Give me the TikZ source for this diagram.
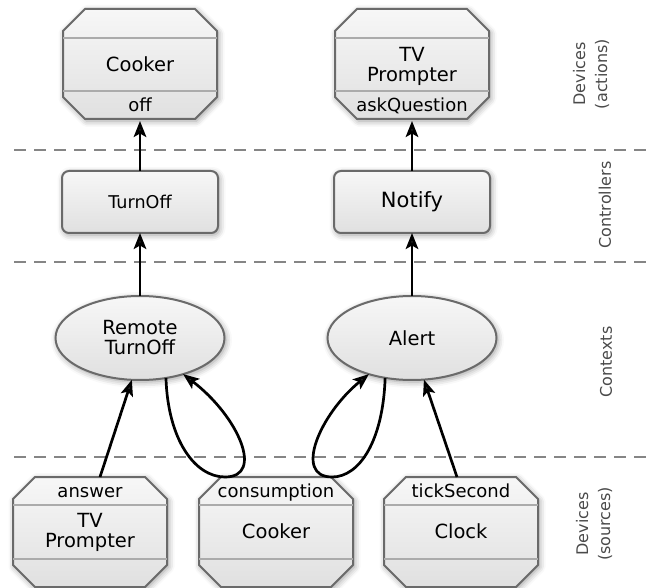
\documentclass[tikz,border=0pt]{standalone}
\usepackage{fontspec}
\setmainfont{DejaVu Sans}
\usetikzlibrary{shapes.geometric,arrows.meta,shadows.blur}
\definecolor{bordergray}{HTML}{6A6A6A}
\definecolor{sepgray}{HTML}{ABABAB}
\definecolor{dashgray}{HTML}{858585}
\definecolor{filltop}{HTML}{F7F7F7}
\definecolor{fillbot}{HTML}{E0E0E0}
\definecolor{sidegray}{HTML}{4A4A4A}
\tikzset{
  softshadow/.style={blur shadow={shadow xshift=1.5pt, shadow yshift=-2pt, shadow blur radius=6pt, shadow opacity=40}},
  devbody/.style={draw=bordergray, line width=2pt, top color=filltop, bottom color=fillbot, softshadow},
  devnode/.style={rectangle, draw=none, minimum width=154, minimum height=110, inner sep=0, outer sep=0},
  sepline/.style={draw=sepgray, line width=1.3pt},
  ctrlbox/.style={rectangle, draw=bordergray, line width=2pt, rounded corners=7pt, top color=filltop, bottom color=fillbot, softshadow, minimum width=156, minimum height=62, inner sep=0, outer sep=0},
  ctxnode/.style={ellipse, draw=bordergray, line width=2pt, top color=filltop, bottom color=fillbot, softshadow, minimum width=169, minimum height=84, inner sep=0, outer sep=0, align=center, font=\fontsize{19.5}{20}\selectfont},
  conn/.style={line width=2.7pt, -{Stealth[length=16pt,width=12.5pt,inset=3.5pt]}},
  gapend/.style={shorten >=2pt},
  mainlbl/.style={font=\fontsize{19.5}{20}\selectfont, align=center, inner sep=0},
  oplbl/.style={font=\fontsize{18}{20}\selectfont, inner sep=0, anchor=base},
  layerline/.style={dashgray, line width=2.4pt, dash pattern=on 12pt off 8pt},
  sidelbl/.style={rotate=90, font=\fontsize{16}{22}\selectfont, text=sidegray, align=center, inner sep=0},
}
\newcommand\devoutline[4]{%
  \path[devbody] (#1+22,#2) -- (#3-22,#2) -- (#3,#2+22) -- (#3,#4-22) -- (#3-22,#4) -- (#1+22,#4) -- (#1,#4-22) -- (#1,#2+22) -- cycle;}
\begin{document}
\begin{tikzpicture}[x=1pt,y=-1pt]
\useasboundingbox (0,0) rectangle (646,588);

% layer separators
\draw[layerline] (14,150) -- (646,150);
\draw[layerline] (14,262) -- (646,262);
\draw[layerline] (14,457) -- (646,457);

% side labels
\node[sidelbl] (labA) at (591,74) {Devices\\(actions)};
\node[sidelbl] (labB) at (605,205) {Controllers};
\node[sidelbl] (labC) at (606,362) {Contexts};
\node[sidelbl] (labD) at (594,524) {Devices\\(sources)};

% action devices
\devoutline{63}{9}{217}{119}
\draw[sepline] (63,38) -- (217,38);
\draw[sepline] (63,91) -- (217,91);
\node[devnode] (cookA) at (140,64) {};
\node[mainlbl, anchor=base] (cookAname) at (140,71.5) {Cooker};
\node[oplbl] (cookAop) at (140,111.8) {off};

\devoutline{335}{9}{489}{119}
\draw[sepline] (335,38) -- (489,38);
\draw[sepline] (335,91) -- (489,91);
\node[devnode] (tvA) at (412,64) {};
\node[mainlbl] (tvAname) at (412,66.5) {TV\\Prompter};
\node[oplbl] (tvAop) at (412,111.8) {askQuestion};

% controllers
\node[ctrlbox, font=\fontsize{17.6}{20}\selectfont] (turnoff) at (140,202) {TurnOff};
\node[ctrlbox, font=\fontsize{21}{22}\selectfont] (notify) at (412,202) {Notify};

% contexts
\node[ctxnode] (rt) at (140,338) {Remote\\TurnOff};
\node[ctxnode] (alert) at (412,338) {Alert};

% source devices
\devoutline{13}{477}{167}{587}
\draw[sepline] (13,505) -- (167,505);
\draw[sepline] (13,559) -- (167,559);
\node[devnode] (tvS) at (90,532) {};
\node[oplbl] (tvSop) at (90,497.4) {answer};
\node[mainlbl] (tvSname) at (90,532.5) {TV\\Prompter};

\devoutline{199}{477}{353}{587}
\draw[sepline] (199,505) -- (353,505);
\draw[sepline] (199,559) -- (353,559);
\node[devnode] (cookS) at (276,532) {};
\node[oplbl] (cookSop) at (276,497.4) {consumption};
\node[mainlbl, anchor=base] (cookSname) at (276,538.8) {Cooker};

\devoutline{384}{477}{538}{587}
\draw[sepline] (384,505) -- (538,505);
\draw[sepline] (384,559) -- (538,559);
\node[devnode] (clockS) at (461,532) {};
\node[oplbl] (clockSop) at (461,497.4) {tickSecond};
\node[mainlbl, anchor=base] (clockSname) at (461,538.8) {Clock};

% loop coordinates on the Cooker source
\coordinate (loopA) at ([xshift=-51pt]cookS.north);
\coordinate (loopB) at ([xshift=56pt]cookS.north);

% connectors
\draw[conn, gapend] (turnoff.north) -- (cookA.south);
\draw[conn, gapend] (notify.north) -- (tvA.south);
\draw[conn] (rt.north) -- (turnoff.south);
\draw[conn] (alert.north) -- (notify.south);
\draw[conn] ([xshift=10pt]tvS.north) -- (rt.-101);
\draw[conn] ([xshift=-4pt]clockS.north) -- (alert.-74);
\draw[conn] (rt.-57) .. controls +(2,62) and (195,477) .. (loopA)
  .. controls (265,477) and (238,416) .. (rt.-40);
\draw[conn] (alert.-124) .. controls +(-2,62) and (360,477) .. (loopB)
  .. controls (293,477) and (320,414) .. (alert.-140);
\end{tikzpicture}
\end{document}
